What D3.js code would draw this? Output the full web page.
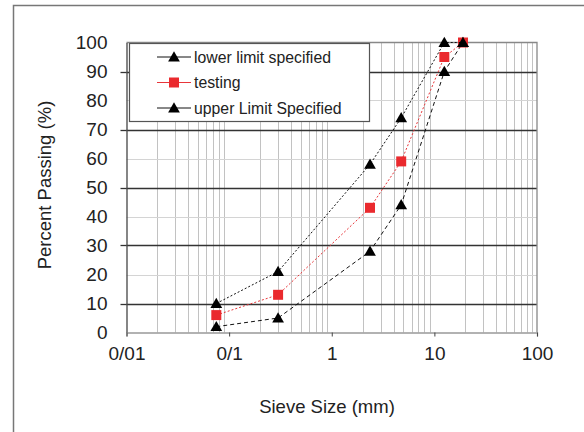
<!DOCTYPE html>
<html>
<head>
<meta charset="utf-8">
<script src="https://cdn.jsdelivr.net/npm/d3@7"></script>
<style>
  html, body { margin: 0; padding: 0; background: #fff; }
  svg { display: block; font-family: Arial, "Liberation Sans", sans-serif; }
</style>
</head>
<body>
<svg id="chart" width="584" height="432"></svg>
<script>
// Sieve sizes (mm) and percent passing for each curve
const sieveSizes = [0.075, 0.3, 2.36, 4.75, 12.5, 19];
const lowerLimit = [2, 5, 28, 44, 90, 100];
const testing = [6, 13, 43, 59, 95, 100];
const upperLimit = [10, 21, 58, 74, 100, 100];

const xTickValues = [0.01, 0.1, 1, 10, 100];
const xTickLabels = ["0/01", "0/1", "1", "10", "100"];
const yTickValues = [0, 10, 20, 30, 40, 50, 60, 70, 80, 90, 100];

const seriesNames = ["lower limit specified", "testing", "upper Limit Specified"];

const svg = d3.select("#chart");
const plotLeft = 126.5, plotRight = 537, plotTop = 42.5, plotBottom = 332.5;

const x = d3.scaleLog().domain([0.01, 100]).range([plotLeft, plotRight]);
const y = d3.scaleLinear().domain([0, 100]).range([plotBottom, plotTop]);

// outer frame
svg.append("rect")
  .attr("x", 13.5).attr("y", 5.5).attr("width", 600).attr("height", 460)
  .attr("fill", "none").attr("stroke", "#777").attr("stroke-width", 1.5);

// vertical minor gridlines (2..9 within each decade)
const minor = [];
for (let d = -2; d < 2; d++) {
  for (let k = 2; k <= 9; k++) minor.push(k * Math.pow(10, d));
}
svg.append("g").selectAll("line").data(minor).join("line")
  .attr("x1", d => Math.round(x(d)) + 0.5).attr("x2", d => Math.round(x(d)) + 0.5)
  .attr("y1", plotTop).attr("y2", plotBottom)
  .attr("stroke", "#c2c2c2").attr("stroke-width", 1);

// horizontal gridlines: dark at odd tens, light at even tens
const isMajor = d => (d / 10) % 2 === 1;
svg.append("g").selectAll("line").data(yTickValues.filter(v => v > 0 && v < 100)).join("line")
  .attr("x1", plotLeft).attr("x2", plotRight)
  .attr("y1", d => Math.round(y(d)) + 0.5).attr("y2", d => Math.round(y(d)) + 0.5)
  .attr("stroke", d => isMajor(d) ? "#333" : "#d4d4d4")
  .attr("stroke-width", d => isMajor(d) ? 1.3 : 1);

// plot area border (top & right)
svg.append("path")
  .attr("d", `M${plotLeft},${plotTop}H${plotRight}V${plotBottom}`)
  .attr("fill", "none").attr("stroke", "#888").attr("stroke-width", 1.3);

// y axis
const yAxis = d3.axisLeft(y).tickValues(yTickValues).tickSize(0).tickPadding(19).tickFormat(d3.format("d"));
const gy = svg.append("g").attr("transform", `translate(${plotLeft},0)`).call(yAxis);
gy.select(".domain").attr("stroke", "#444").attr("stroke-width", 1.3);
gy.selectAll("text").attr("font-size", 19).attr("fill", "#222").attr("font-family", "Arial, 'Liberation Sans', sans-serif");
svg.append("g").selectAll("line").data([10, 30, 50, 70, 90]).join("line")
  .attr("x1", plotLeft - 6).attr("x2", plotLeft)
  .attr("y1", d => Math.round(y(d)) + 0.5).attr("y2", d => Math.round(y(d)) + 0.5)
  .attr("stroke", "#333").attr("stroke-width", 1.3);

// x axis
const xAxis = d3.axisBottom(x).tickValues(xTickValues).tickSize(4).tickPadding(10)
  .tickFormat((d, i) => xTickLabels[i]);
const gx = svg.append("g").attr("transform", `translate(0,${plotBottom})`).call(xAxis);
gx.select(".domain").attr("stroke", "#999").attr("stroke-width", 1.3);
gx.selectAll(".tick line").attr("stroke", "#444");
gx.selectAll("text").attr("font-size", 19).attr("fill", "#222").attr("font-family", "Arial, 'Liberation Sans', sans-serif");

// axis titles
svg.append("text")
  .attr("transform", "translate(51,185) rotate(-90)")
  .attr("text-anchor", "middle").attr("font-size", 18.5).attr("fill", "#222")
  .text("Percent Passing (%)");
svg.append("text")
  .attr("x", 327).attr("y", 413)
  .attr("text-anchor", "middle").attr("font-size", 18.5).attr("fill", "#222")
  .text("Sieve Size (mm)");

// series
const triangle = d3.symbol().type(d3.symbolTriangle).size(60);
const square = d3.symbol().type(d3.symbolSquare).size(100);
const series = [
  { name: seriesNames[0], values: lowerLimit, color: "#111", dash: "4,3", sym: triangle, fill: "#000" },
  { name: seriesNames[1], values: testing, color: "#e8363a", dash: "2,2", sym: square, fill: "#ea2a2e" },
  { name: seriesNames[2], values: upperLimit, color: "#111", dash: "2,2", sym: triangle, fill: "#000" }
];

const line = d3.line().x(d => x(d[0])).y(d => y(d[1]));
series.forEach(s => {
  const pts = sieveSizes.map((v, i) => [v, s.values[i]]);
  svg.append("path").datum(pts)
    .attr("d", line).attr("fill", "none")
    .attr("stroke", s.color).attr("stroke-width", 1).attr("stroke-dasharray", s.dash);
  svg.append("g").selectAll("path").data(pts).join("path")
    .attr("transform", d => `translate(${x(d[0])},${y(d[1]) + (s.sym === triangle ? 1 : 0)})`)
    .attr("d", s.sym).attr("fill", s.fill);
});

// legend
const lg = svg.append("g");
lg.append("rect")
  .attr("x", 129.5).attr("y", 43.5).attr("width", 240).attr("height", 78)
  .attr("fill", "#fff").attr("stroke", "#555").attr("stroke-width", 1.2);
series.forEach((s, i) => {
  const cy = 57 + i * 25.5;
  lg.append("line").attr("x1", 157).attr("x2", 191).attr("y1", cy).attr("y2", cy)
    .attr("stroke", s.color).attr("stroke-width", 1);
  lg.append("path").attr("transform", `translate(174,${cy + (s.sym === triangle ? 1 : 0)})`)
    .attr("d", s.sym).attr("fill", s.fill);
  lg.append("text").attr("x", 194).attr("y", cy + 5.5)
    .attr("font-size", 15.8).attr("fill", "#222").text(s.name);
});
</script>
</body>
</html>
